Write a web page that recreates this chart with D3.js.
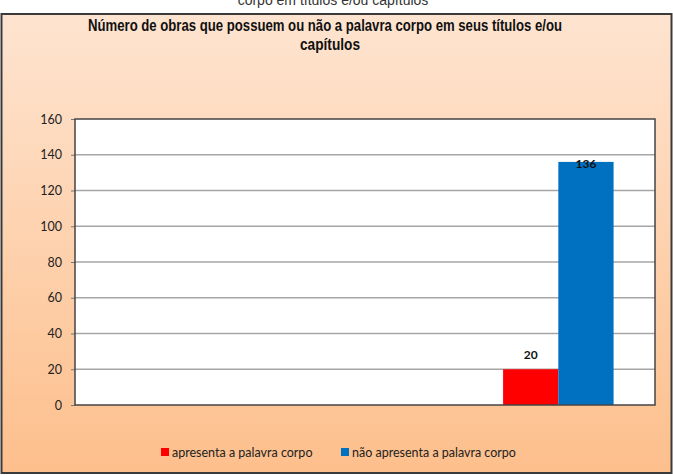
<!DOCTYPE html>
<html>
<head>
<meta charset="utf-8">
<script src="https://cdn.jsdelivr.net/npm/d3@7"></script>
<style>
  html, body { margin: 0; padding: 0; background: #fff; }
  svg { display: block; }
</style>
</head>
<body>
<div id="chart"></div>
<script>
// chart values
const categories = ["1", "2", "3"];
const seriesNames = ["apresenta a palavra corpo", "não apresenta a palavra corpo"];
const apresenta = [null, null, 20];
const naoApresenta = [null, null, 136];
const yTicks = [0, 20, 40, 60, 80, 100, 120, 140, 160];
const titleLines = ["Número de obras que possuem ou não a palavra corpo em seus títulos e/ou", "capítulos"];
const topCaption = "corpo em títulos e/ou capítulos";

const W = 673, H = 476;
const plot = {left: 75, right: 655, top: 119, bottom: 405};
const colors = ["#ff0000", "#0070c0"];
const numFont = "Lato, 'Open Sans', sans-serif";

const svg = d3.select("#chart").append("svg")
  .attr("width", W)
  .attr("height", H);

const defs = svg.append("defs");
const grad = defs.append("linearGradient")
  .attr("id", "bg")
  .attr("x1", "0").attr("y1", "0")
  .attr("x2", "0").attr("y2", "1");
grad.append("stop").attr("offset", "0%").attr("stop-color", "#fee4d0");
grad.append("stop").attr("offset", "100%").attr("stop-color", "#fdbf8c");

// caption cut off at the top of the page (clipped in the original too)
svg.append("text")
  .attr("x", 333)
  .attr("y", 5)
  .attr("text-anchor", "middle")
  .style("font-family", "'Liberation Sans', Arial, sans-serif")
  .style("font-size", "14px")
  .style("fill", "#333")
  .text(topCaption);

// chart frame
svg.append("rect")
  .attr("x", 1.5)
  .attr("y", 14)
  .attr("width", 670)
  .attr("height", 459)
  .attr("fill", "url(#bg)")
  .attr("stroke", "#3a3a3a")
  .attr("stroke-width", 2);

// title, narrow bold
const titleWidths = [474, 60];
svg.append("g").selectAll("text")
  .data(titleLines)
  .join("text")
  .attr("x", (d, i) => i === 0 ? 325 : 330)
  .attr("y", (d, i) => 31 + i * 19)
  .attr("text-anchor", "middle")
  .attr("textLength", (d, i) => titleWidths[i])
  .attr("lengthAdjust", "spacingAndGlyphs")
  .style("font-family", "'Liberation Sans', Arial, sans-serif")
  .style("font-weight", "bold")
  .style("font-size", "16px")
  .style("fill", "#111")
  .text(d => d);

// plot area
svg.append("rect")
  .attr("x", plot.left)
  .attr("y", plot.top)
  .attr("width", plot.right - plot.left)
  .attr("height", plot.bottom - plot.top)
  .attr("fill", "#fff");

const y = d3.scaleLinear()
  .domain([0, 160])
  .range([plot.bottom, plot.top]);

const x = d3.scaleBand()
  .domain(categories)
  .range([plot.left, plot.right])
  .padding(0);

const xs = d3.scaleBand()
  .domain(seriesNames)
  .range([0, x.bandwidth()])
  .paddingInner(0)
  .paddingOuter(0.75);

// gridlines
svg.append("g").selectAll("line")
  .data(yTicks.filter(t => t > 0 && t < 160))
  .join("line")
  .attr("x1", plot.left)
  .attr("x2", plot.right)
  .attr("y1", d => y(d))
  .attr("y2", d => y(d))
  .attr("stroke", "#a6a6a6")
  .attr("stroke-width", 1.3);

// y axis
const yAxis = svg.append("g")
  .attr("transform", `translate(${plot.left},0)`)
  .call(d3.axisLeft(y).tickValues(yTicks).tickSize(4).tickPadding(9));
yAxis.select(".domain").remove();
yAxis.selectAll(".tick line").attr("stroke", "#777");
yAxis.selectAll(".tick text")
  .style("font-family", numFont)
  .style("font-size", "12.5px")
  .style("fill", "#222");

// bars
const rows = categories.map((c, i) => ({cat: c, vals: [apresenta[i], naoApresenta[i]]}));
const groups = svg.append("g").selectAll("g")
  .data(rows)
  .join("g")
  .attr("transform", d => `translate(${x(d.cat)},0)`);

groups.selectAll("rect")
  .data(d => d.vals.map((v, k) => ({name: seriesNames[k], v, k})).filter(e => e.v != null))
  .join("rect")
  .attr("x", d => xs(d.name))
  .attr("y", d => y(d.v))
  .attr("width", xs.bandwidth())
  .attr("height", d => y(0) - y(d.v))
  .attr("fill", d => colors[d.k]);

groups.selectAll("text")
  .data(d => d.vals.map((v, k) => ({name: seriesNames[k], v, k})).filter(e => e.v != null))
  .join("text")
  .attr("x", d => xs(d.name) + xs.bandwidth() / 2)
  .attr("y", d => d.k === 0 ? y(d.v) - 10 : y(d.v) + 6)
  .attr("text-anchor", "middle")
  .style("font-family", numFont)
  .style("font-weight", "bold")
  .style("font-size", "12px")
  .style("fill", "#111")
  .text(d => d.v);

// plot border
svg.append("rect")
  .attr("x", plot.left)
  .attr("y", plot.top)
  .attr("width", plot.right - plot.left)
  .attr("height", plot.bottom - plot.top)
  .attr("fill", "none")
  .attr("stroke", "#444")
  .attr("stroke-width", 1.5);

// legend
const legendPos = [161, 341];
const legend = svg.append("g").selectAll("g")
  .data(seriesNames)
  .join("g")
  .attr("transform", (d, i) => `translate(${legendPos[i]},448)`);
legend.append("rect")
  .attr("width", 8)
  .attr("height", 8)
  .attr("fill", (d, i) => colors[i]);
legend.append("text")
  .attr("x", 11)
  .attr("y", 8.5)
  .style("font-family", numFont)
  .style("font-size", "12.5px")
  .style("fill", "#222")
  .text(d => d);
</script>
</body>
</html>
